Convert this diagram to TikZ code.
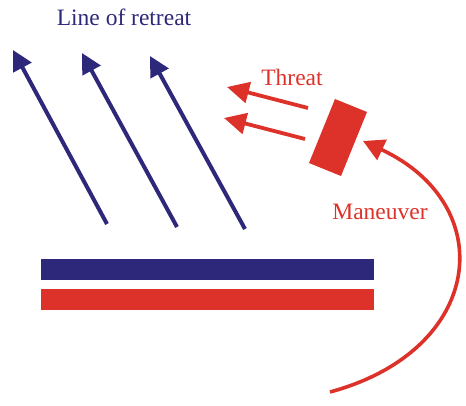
\documentclass[tikz,border=0pt]{standalone}
\usepackage{fontspec}
\setmainfont{Liberation Serif}
\usetikzlibrary{arrows.meta}
\definecolor{navy}{RGB}{46,40,122}
\definecolor{redc}{RGB}{221,50,42}
\tikzset{
  lbl/.style={inner sep=0pt,font=\fontsize{23.5}{26}\selectfont},
  retreat/.style={navy,line width=4pt,-{Triangle[length=20pt,width=20pt]}},
  threat/.style={redc,line width=3.8pt,-{Triangle[length=22pt,width=21pt]}},
  bar/.style={inner sep=0pt,minimum width=333pt,minimum height=21pt,anchor=north west}
}
\begin{document}
\begin{tikzpicture}[x=1pt,y=-1pt]
\useasboundingbox (0,0) rectangle (466,406);
% text
\node[lbl,text=navy] (lor) at (124,17) {Line of retreat};
\node[lbl,text=redc] (thr) at (292,77) {Threat};
\node[lbl,text=redc] (man) at (380,212) {Maneuver};
% retreat arrows
\coordinate (r1s) at (107,224); \coordinate (r1e) at (13,50);
\coordinate (r2s) at (177,227); \coordinate (r2e) at (82,53);
\coordinate (r3s) at (245,229); \coordinate (r3e) at (150,56);
\draw[retreat] (r1s) -- (r1e);
\draw[retreat] (r2s) -- (r2e);
\draw[retreat] (r3s) -- (r3e);
% threat block
\fill[redc] (335,99) -- (367,112) -- (341,176) -- (309,163) -- cycle;
% threat arrows
\coordinate (t1s) at (308,108); \coordinate (t1e) at (227,87);
\coordinate (t2s) at (305,139); \coordinate (t2e) at (224,118);
\draw[threat] (t1s) -- (t1e);
\draw[threat] (t2s) -- (t2e);
% bars
\node[bar,fill=navy] (bb) at (41,259) {};
\node[bar,fill=redc] (rb) at (41,289) {};
% maneuver
\coordinate (ms) at (330,392);
\coordinate (me) at (363,141);
\draw[redc,line width=3.6pt,-{Triangle[length=21pt,width=22pt]}] (ms) .. controls (485,350) and (500,205) .. (me);
\end{tikzpicture}
\end{document}
